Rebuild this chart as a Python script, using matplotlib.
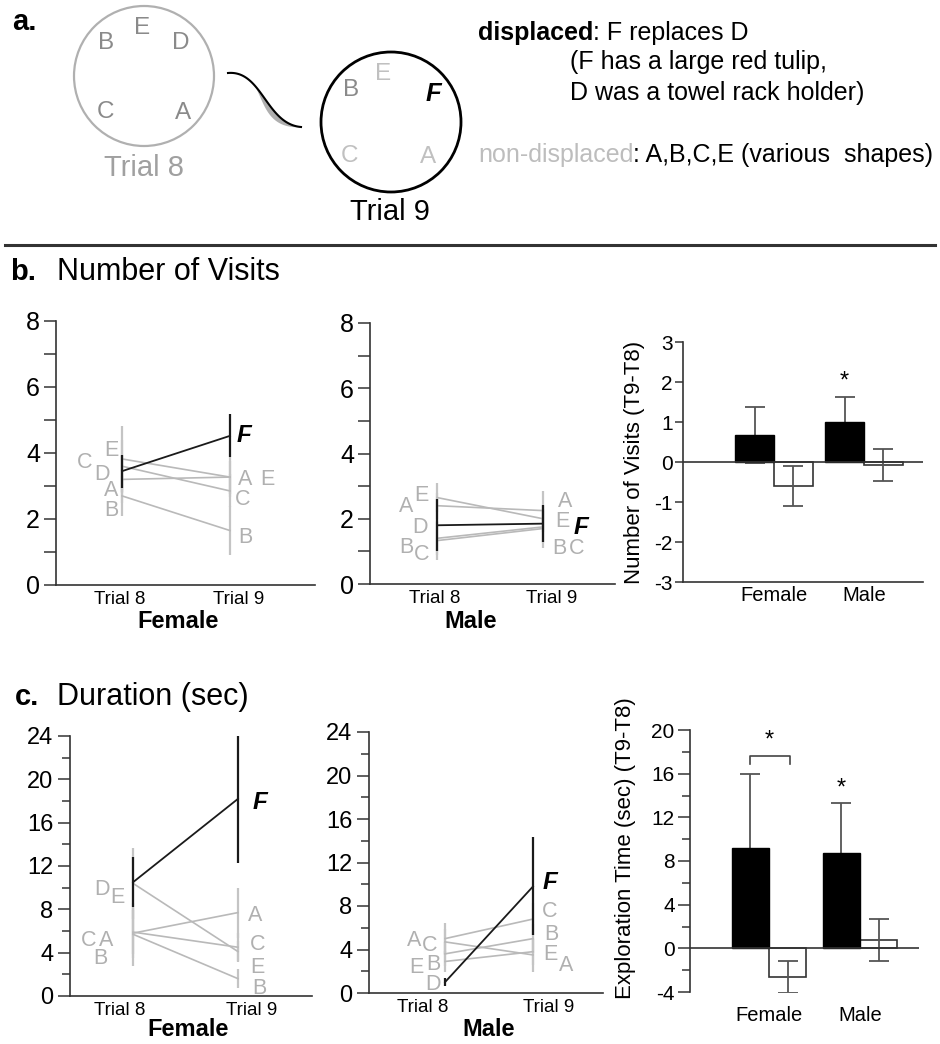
import matplotlib
matplotlib.use('Agg')
import matplotlib.pyplot as plt
from matplotlib.patches import Circle, Polygon
import numpy as np

plt.rcParams['font.family'] = ['Liberation Sans', 'DejaVu Sans']

# ------------------------------------------------------------------ data
objects = ['A', 'B', 'C', 'E']          # non-displaced objects
trials = ['Trial 8', 'Trial 9']
sexes = ['Female', 'Male']

# b. Number of visits (mean, error) per object, Trial 8 -> Trial 9
visits_female_t8 = [3.20, 2.70, 3.60, 3.82]
visits_female_t9 = [3.27, 1.65, 2.85, 3.27]
visits_female_t8_err = [0.70, 0.60, 0.80, 1.00]
visits_female_t9_err = [0.60, 0.75, 0.50, 0.50]
visits_female_disp = [3.45, 4.52]        # D (trial 8) -> F (trial 9)
visits_female_disp_err = [0.50, 0.65]

visits_male_t8 = [2.40, 1.40, 1.33, 2.65]
visits_male_t9 = [2.25, 1.75, 1.70, 2.00]
visits_male_t8_err = [0.40, 0.50, 0.60, 0.45]
visits_male_t9_err = [0.60, 0.50, 0.60, 0.40]
visits_male_disp = [1.80, 1.85]
visits_male_disp_err = [0.80, 0.57]

# c. Duration (sec)
dur_female_t8 = [5.8, 5.7, 5.9, 10.4]
dur_female_t9 = [7.7, 1.6, 4.5, 4.1]
dur_female_t8_err = [2.3, 2.9, 2.0, 3.3]
dur_female_t9_err = [2.3, 0.9, 1.3, 1.0]
dur_female_disp = [10.5, 18.2]
dur_female_disp_err = [2.3, 5.9]

dur_male_t8 = [4.7, 3.6, 5.0, 2.9]
dur_male_t9 = [3.5, 5.0, 6.8, 3.8]
dur_male_t8_err = [1.2, 1.1, 1.4, 1.0]
dur_male_t9_err = [1.6, 1.3, 1.5, 1.2]
dur_male_disp = [1.0, 9.8]
dur_male_disp_err = [0.4, 4.5]

# difference scores (T9 - T8): displaced (black) / non-displaced (white)
visits_diff_disp = [0.68, 1.00]
visits_diff_disp_err = [0.70, 0.62]
visits_diff_nondisp = [-0.60, -0.07]
visits_diff_nondisp_err = [0.50, 0.40]

dur_diff_disp = [9.2, 8.7]
dur_diff_disp_err = [6.8, 4.6]
dur_diff_nondisp = [-2.65, 0.75]
dur_diff_nondisp_err = [1.45, 1.90]

# ------------------------------------------------------------------ style
W, H = 940, 1044
GREY_LINE = '#b9b9b9'
GREY_ERR = '#c4c4c4'
GREY_TXT = '#b0b0b0'
DARK = '#1a1a1a'
SPINE = '#333333'
LETTER_FS = 15.5

fig = plt.figure(figsize=(W / 100, H / 100), dpi=100)


def px_axes(l, t, r, b):
    ax = fig.add_axes([l / W, 1 - b / H, (r - l) / W, (b - t) / H])
    ax.set_facecolor('none')
    return ax


def line_panel(rect, xlim, ylim, major, minor, t8, t9, e8, e9, disp, disp_err,
               labels8, labels9, fy, tick_x, tick_fs, tlen):
    ax = px_axes(*rect)
    x = [1, 2]
    for v8, v9, s8, s9 in zip(t8, t9, e8, e9):
        ax.plot(x, [v8, v9], color=GREY_LINE, lw=1.2, zorder=2)
        ax.errorbar(x, [v8, v9], yerr=[s8, s9], fmt='none', ecolor=GREY_ERR,
                    elinewidth=1.6, capsize=0, zorder=1)
    ax.plot(x, disp, color=DARK, lw=1.3, zorder=4)
    ax.errorbar(x, disp, yerr=disp_err, fmt='none', ecolor=DARK,
                elinewidth=1.6, capsize=0, zorder=3)
    for (letter, dx, y) in labels8:
        ax.annotate(letter, xy=(1, y), xytext=(dx, 0), textcoords='offset pixels',
                    ha='center', va='center_baseline', fontsize=LETTER_FS, color=GREY_TXT)
    for (letter, dx, y) in labels9:
        ax.annotate(letter, xy=(2, y), xytext=(dx, 0), textcoords='offset pixels',
                    ha='center', va='center_baseline', fontsize=LETTER_FS, color=GREY_TXT)
    ax.annotate('F', xy=(2, fy[1]), xytext=(fy[0], 0), textcoords='offset pixels',
                ha='center', va='center_baseline', fontsize=17.5, color='black',
                fontweight='bold', fontstyle='italic')
    ax.set_xlim(*xlim)
    ax.set_ylim(*ylim)
    ax.set_yticks(major)
    ax.set_yticks(minor, minor=True)
    ax.tick_params(axis='y', which='major', direction='out', length=tlen[0], width=1.2,
                   color='#444444', labelsize=tick_fs, pad=3)
    ax.tick_params(axis='y', which='minor', direction='out', length=tlen[1], width=1.2,
                   color='#444444')
    ax.set_xticks(tick_x)
    ax.set_xticklabels(trials)
    ax.tick_params(axis='x', length=0, labelsize=13.5, pad=4)
    for s in ['top', 'right']:
        ax.spines[s].set_visible(False)
    for s in ['left', 'bottom']:
        ax.spines[s].set_color(SPINE)
        ax.spines[s].set_linewidth(1.2)
    return ax


def bar_panel(rect, xlim, width, ylim, major, minor, disp, disp_err, nond, nond_err,
              ylabel, ylab_xy, bottom_spine, xpad, tlen):
    ax = px_axes(*rect)
    xc = np.arange(len(sexes))
    xb = xc - width / 2
    xw = xc + width / 2
    ax.bar(xw, nond, width=width, color='white', edgecolor='#333333', lw=1.2, zorder=1)
    ax.errorbar(xb, disp, yerr=disp_err, fmt='none', ecolor='#555555',
                elinewidth=1.3, capsize=7, capthick=1.3, zorder=2)
    ax.errorbar(xw, nond, yerr=nond_err, fmt='none', ecolor='#555555',
                elinewidth=1.3, capsize=7, capthick=1.3, zorder=2)
    ax.bar(xb, disp, width=width, color='black', edgecolor='black', lw=1.0, zorder=3)
    ax.axhline(0, color=SPINE, lw=1.2, zorder=4)
    ax.set_xlim(*xlim)
    ax.set_ylim(*ylim)
    ax.set_yticks(major)
    ax.set_yticklabels([f'{v:g}' for v in major])
    if minor is not None:
        ax.set_yticks(minor, minor=True)
    ax.tick_params(axis='y', which='major', direction='out', length=tlen[0], width=1.2,
                   color='#444444', labelsize=15, pad=2)
    ax.tick_params(axis='y', which='minor', direction='out', length=tlen[1], width=1.2,
                   color='#444444')
    ax.set_xticks(xc)
    ax.set_xticklabels(sexes)
    ax.tick_params(axis='x', length=0, labelsize=14.5, pad=xpad)
    ax.spines['top'].set_visible(False)
    ax.spines['right'].set_visible(False)
    ax.spines['left'].set_color(SPINE)
    ax.spines['left'].set_linewidth(1.2)
    ax.spines['bottom'].set_visible(bottom_spine)
    ax.spines['bottom'].set_color(SPINE)
    ax.spines['bottom'].set_linewidth(1.2)
    ax.set_ylabel(ylabel, fontsize=16)
    ax.yaxis.set_label_coords(*ylab_xy)
    return ax, xb, xw


# ------------------------------------------------------------------ panel b
line_panel((56, 321, 315, 585), (0.389, 2.787), (0, 8), [0, 2, 4, 6, 8], [1, 3, 5, 7],
           visits_female_t8, visits_female_t9, visits_female_t8_err, visits_female_t9_err,
           visits_female_disp, visits_female_disp_err,
           [('E', -11, 4.15), ('C', -37, 3.8), ('D', -20, 3.42), ('A', -11, 2.94), ('B', -11, 2.33)],
           [('A', 15, 3.27), ('E', 37, 3.27), ('C', 13, 2.67), ('B', 15, 1.52)],
           (14, 4.6), [0.98, 2.08], 18, (8.5, 8.5))

line_panel((370, 323, 615, 584), (0.368, 2.679), (0, 8), [0, 2, 4, 6, 8], [1, 3, 5, 7],
           visits_male_t8, visits_male_t9, visits_male_t8_err, visits_male_t9_err,
           visits_male_disp, visits_male_disp_err,
           [('A', -31, 2.45), ('E', -16, 2.8), ('D', -17, 1.8), ('B', -31, 1.2), ('C', -15, 0.98)],
           [('A', 22, 2.6), ('E', 19, 2.0), ('B', 16, 1.15), ('C', 34, 1.15)],
           (38, 1.8), [0.98, 2.085], 18, (8.5, 8.5))

axb, xb_b, xw_b = bar_panel((683, 342, 923, 582), (-1.011, 1.656), 0.43, (-3, 3),
                            [-3, -2, -1, 0, 1, 2, 3], None,
                            visits_diff_disp, visits_diff_disp_err,
                            visits_diff_nondisp, visits_diff_nondisp_err,
                            'Number of Visits (T9-T8)', (-0.158, 0.5), True, 3, (5.5, 3))
axb.text(xb_b[1], 2.0, '*', ha='center', va='center', fontsize=17)

# ------------------------------------------------------------------ panel c
line_panel((70, 736, 312, 996), (0.4, 2.705), (0, 24), [0, 4, 8, 12, 16, 20, 24],
           [2, 6, 10, 14, 18, 22],
           dur_female_t8, dur_female_t9, dur_female_t8_err, dur_female_t9_err,
           dur_female_disp, dur_female_disp_err,
           [('D', -31, 10.1), ('E', -16, 9.3), ('C', -44, 5.4), ('A', -27, 5.4), ('B', -33, 3.7)],
           [('A', 17, 7.7), ('C', 20, 5.0), ('E', 19, 2.9), ('B', 21, 0.9)],
           (22, 18.1), [0.876, 2.133], 17, (9, 5.5))

line_panel((369, 732, 603, 993), (0.136, 2.795), (0, 24), [0, 4, 8, 12, 16, 20, 24],
           [2, 6, 10, 14, 18, 22],
           dur_male_t8, dur_male_t9, dur_male_t8_err, dur_male_t9_err,
           dur_male_disp, dur_male_disp_err,
           [('A', -31, 5.05), ('C', -15, 4.6), ('E', -29, 2.6), ('B', -12, 2.85), ('D', -12, 1.0)],
           [('C', 17, 7.7), ('B', 18, 5.6), ('E', 17, 3.8), ('A', 33, 2.75)],
           (17, 10.4), [0.75, 2.18], 17, (9, 5.5))

axc, xb_c, xw_c = bar_panel((690, 730, 919, 992), (-0.868, 1.648), 0.41, (-4, 20),
                            [-4, 0, 4, 8, 12, 16, 20], [-2, 2, 6, 10, 14, 18],
                            dur_diff_disp, dur_diff_disp_err,
                            dur_diff_nondisp, dur_diff_nondisp_err,
                            'Exploration Time (sec) (T9-T8)', (-0.236, 0.55), False, 10, (9, 5.5))
axc.plot([xb_c[0], xb_c[0], xw_c[0] + 0.03, xw_c[0] + 0.03], [16.9, 17.6, 17.6, 16.9],
         color='#444444', lw=1.2)
axc.text((xb_c[0] + xw_c[0]) / 2, 19.0, '*', ha='center', va='center', fontsize=17)
axc.text(xb_c[1], 14.6, '*', ha='center', va='center', fontsize=17)

# ------------------------------------------------------------------ overlay (panel a, titles)
ov = fig.add_axes([0, 0, 1, 1], zorder=10)
ov.set_xlim(0, W)
ov.set_ylim(H, 0)
ov.axis('off')

ov.text(12, 22, 'a.', fontsize=21, fontweight='bold', ha='left', va='center')

ov.add_patch(Circle((144, 76), 70, fill=False, ec='#b0b0b0', lw=1.6))
for letter, (cx, cy) in zip(['B', 'E', 'D', 'C', 'A'],
                            [(106, 43), (142, 28), (181, 43), (105, 112), (183, 113)]):
    ov.text(cx, cy, letter, fontsize=17.5, color='#8a8a8a', ha='center', va='center')
ov.text(144, 168, 'Trial 8', fontsize=21, color='#a0a0a0', ha='center', va='center')

ov.add_patch(Circle((391, 122), 70, fill=False, ec='black', lw=2.0))
ov.text(351, 90, 'B', fontsize=17.5, color='#8a8a8a', ha='center', va='center')
for letter, (cx, cy) in zip(['E', 'C', 'A'], [(383, 74), (349, 156), (428, 157)]):
    ov.text(cx, cy, letter, fontsize=17.5, color='#c0c0c0', ha='center', va='center')
ov.text(433, 94, 'F', fontsize=18.5, color='black', fontweight='bold', fontstyle='italic',
        ha='center', va='center')
ov.text(390, 212, 'Trial 9', fontsize=21, color='black', ha='center', va='center')

# swoosh arrow: thin black curve with grey ribbon underneath its lower half
P = np.array([(228, 73), (262, 70), (266, 124), (301, 127)], dtype=float)
tt = np.linspace(0, 1, 80)[:, None]
curve_pts = ((1 - tt) ** 3 * P[0] + 3 * (1 - tt) ** 2 * tt * P[1]
             + 3 * (1 - tt) * tt ** 2 * P[2] + tt ** 3 * P[3])
sel = tt[:, 0] >= 0.35
up = curve_pts[sel]
s = (tt[sel, 0] - 0.35) / 0.65
bulge = np.sin(np.pi * s) ** 0.8 * (0.4 + 0.6 * s)
low = up + np.column_stack([-8 * bulge, 3 * bulge])
ov.add_patch(Polygon(np.vstack([up, low[::-1]]), closed=True, fc='#7a7a7a',
                     ec='none', alpha=0.6))
ov.plot(curve_pts[:, 0], curve_pts[:, 1], color='black', lw=1.5)

# text description
TFS = 18
t1 = ov.text(478, 33, 'displaced', fontsize=TFS, fontweight='bold', ha='left', va='center')
ov.annotate(': F replaces D', xy=(1, 0), xycoords=t1, ha='left', va='bottom', fontsize=TFS)
ov.text(570, 62, '(F has a large red tulip,', fontsize=TFS, ha='left', va='center')
ov.text(570, 93, 'D was a towel rack holder)', fontsize=TFS, ha='left', va='center')
t2 = ov.text(478, 155, 'non-displaced', fontsize=TFS, color='#bdbdbd', ha='left', va='center')
ov.annotate(': A,B,C,E (various  shapes)', xy=(1, 0), xycoords=t2, ha='left', va='bottom',
            fontsize=TFS)

# separator
ov.plot([5, 935], [245, 245], color='#333333', lw=2.2)

# section titles
ov.text(10, 272, 'b.', fontsize=21, fontweight='bold', ha='left', va='center')
ov.text(57, 272, 'Number of Visits', fontsize=22, ha='left', va='center')
ov.text(15, 697, 'c.', fontsize=21, fontweight='bold', ha='left', va='center')
ov.text(57, 697, 'Duration (sec)', fontsize=22, ha='left', va='center')

# group labels under line panels
ov.text(178, 622, 'Female', fontsize=17, fontweight='bold', ha='center', va='center')
ov.text(471, 622, 'Male', fontsize=17, fontweight='bold', ha='center', va='center')
ov.text(188, 1030, 'Female', fontsize=17, fontweight='bold', ha='center', va='center')
ov.text(489, 1029, 'Male', fontsize=17, fontweight='bold', ha='center', va='center')

fig.savefig('out.png', dpi=100)
